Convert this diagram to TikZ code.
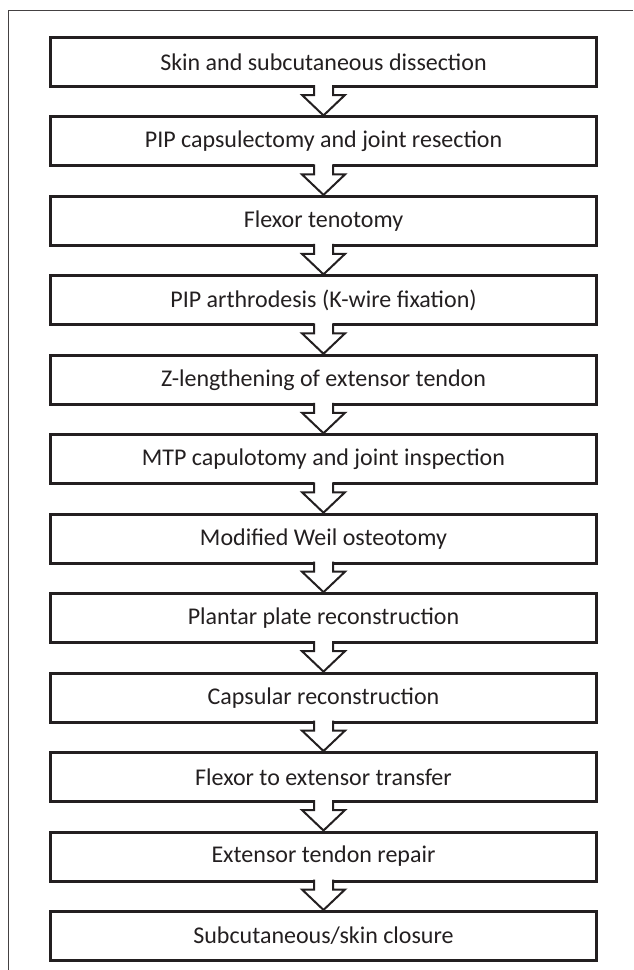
\documentclass[tikz,border=0pt]{standalone}
\usepackage{fontspec}
\setmainfont{Carlito}
\usetikzlibrary{calc}
\definecolor{ink}{HTML}{231F20}
\tikzset{
  stepbox/.style={draw=ink, line width=3pt, minimum width=546pt, minimum height=49pt,
    inner sep=0pt, text=ink, font=\fontsize{24}{28}\selectfont},
  flowarrow/.style={draw=ink, line width=2pt, line join=miter},
}
% hollow down arrow from one box to the next
\newcommand\hollowarrow[2]{%
  \fill[white] ($(#1.south)+(-9.5,-3)$) rectangle ($(#1.south)+(9.5,7)$);
  \fill[white] ($(#1.south)+(-21.5,7)$) -- (#2.north) -- ($(#1.south)+(21.5,7)$) -- cycle;
  \draw[flowarrow] ($(#1.south)+(-9.5,-3)$) -- ($(#1.south)+(-9.5,7)$) -- ($(#1.south)+(-21.5,7)$)
    -- (#2.north) -- ($(#1.south)+(21.5,7)$) -- ($(#1.south)+(9.5,7)$) -- ($(#1.south)+(9.5,-3)$);
}

\begin{document}
\begin{tikzpicture}[x=1pt,y=-1pt]
  \useasboundingbox (0,0) rectangle (633,970);

  % frame
  \draw[ink!85, line width=1pt] (8,970) -- (8,10) -- (633,10);

  % steps
  \foreach \txt [count=\i] in {Skin and subcutaneous dissection,
      PIP capsulectomy and joint resection,
      Flexor tenotomy,
      PIP arthrodesis (K-wire fixation),
      Z-lengthening of extensor tendon,
      MTP capulotomy and joint inspection,
      Modified Weil osteotomy,
      Plantar plate reconstruction,
      Capsular reconstruction,
      Flexor to extensor transfer,
      Extensor tendon repair,
      Subcutaneous/skin closure}
    \node[stepbox] (b\i) at (323.5, {62 + 79.45*(\i-1)}) {\txt};

  % arrows
  \foreach \i [evaluate=\i as \j using int(\i+1)] in {1,...,11}
    {\hollowarrow{b\i}{b\j}}
\end{tikzpicture}
\end{document}
